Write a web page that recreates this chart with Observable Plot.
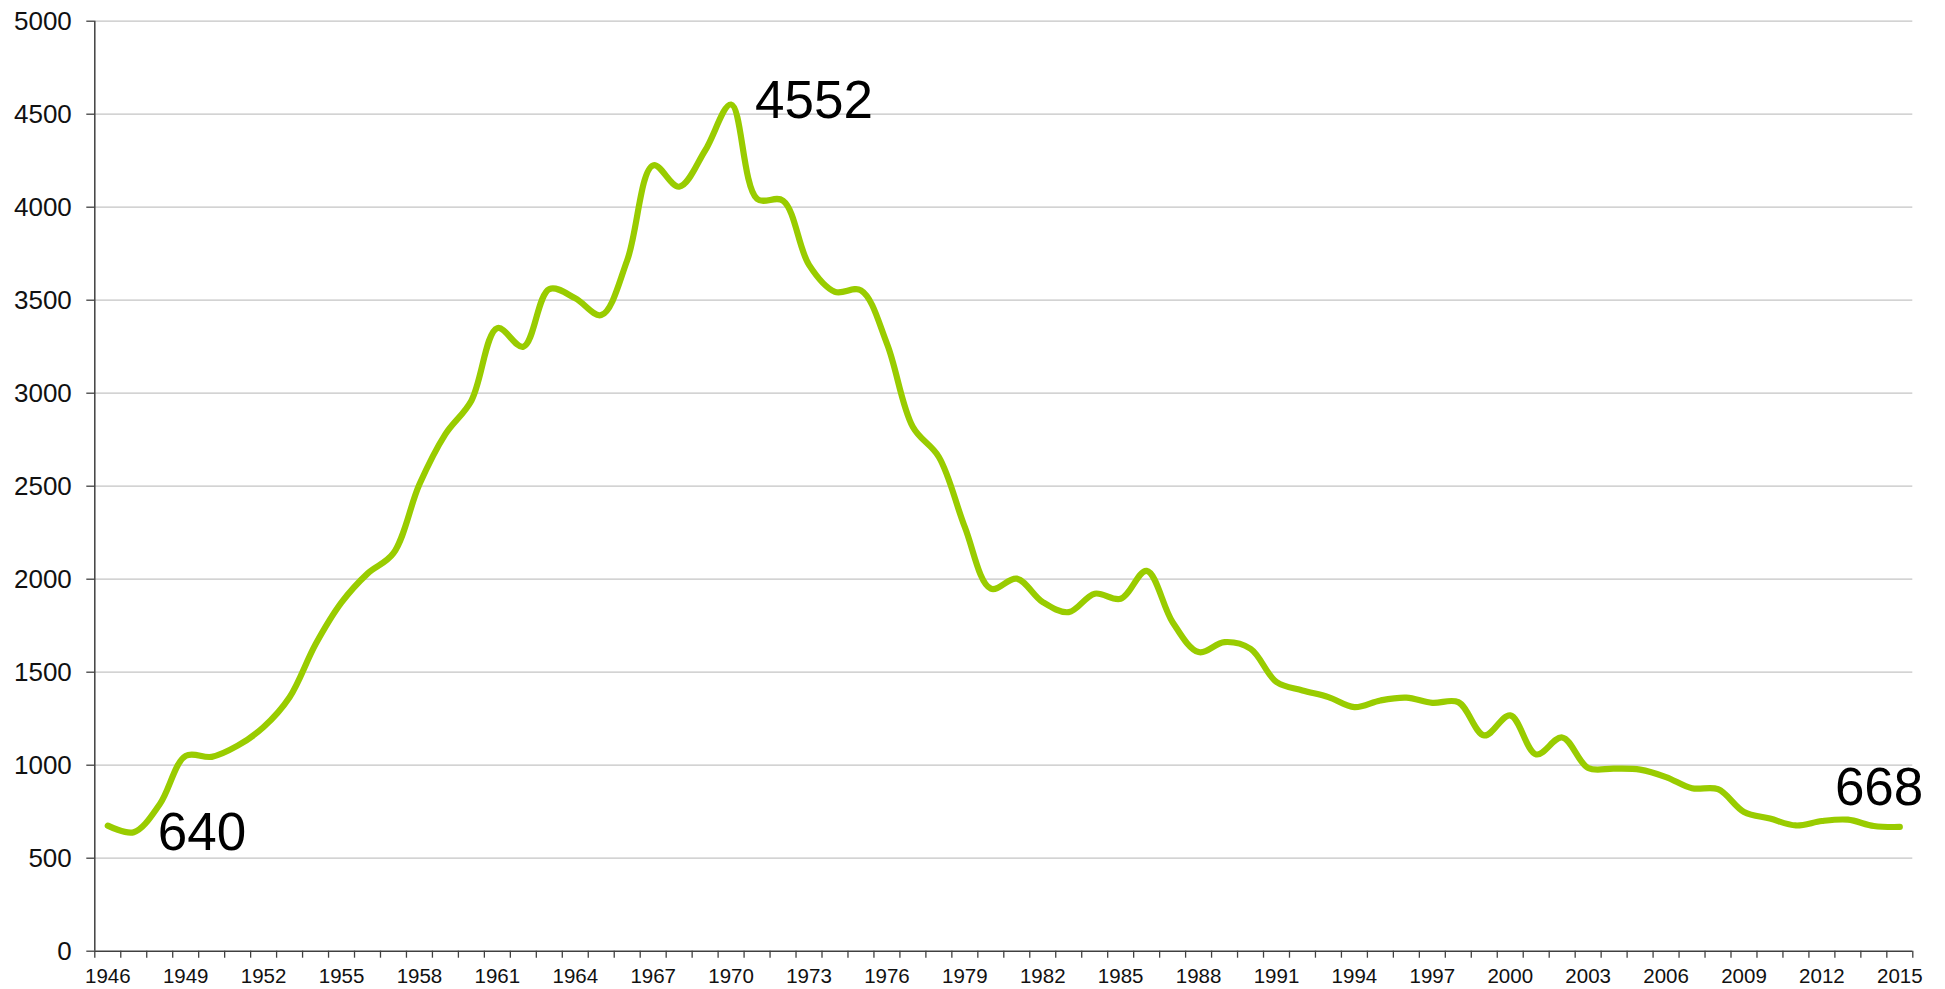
<!DOCTYPE html>
<html>
<head>
<meta charset="utf-8">
<script src="https://cdn.jsdelivr.net/npm/d3@7"></script>
<script src="https://cdn.jsdelivr.net/npm/@observablehq/plot@0.6"></script>
<style>
  html, body { margin: 0; padding: 0; background: #fff; }
  #chart svg { display: block; }
</style>
</head>
<body>
<div id="chart"></div>
<script>
const years = [
  1946,1947,1948,1949,1950,1951,1952,1953,1954,1955,
  1956,1957,1958,1959,1960,1961,1962,1963,1964,1965,
  1966,1967,1968,1969,1970,1971,1972,1973,1974,1975,
  1976,1977,1978,1979,1980,1981,1982,1983,1984,1985,
  1986,1987,1988,1989,1990,1991,1992,1993,1994,1995,
  1996,1997,1998,1999,2000,2001,2002,2003,2004,2005,
  2006,2007,2008,2009,2010,2011,2012,2013,2014,2015
];
const values = [
  675,640,790,1050,1045,1105,1205,1365,1650,1875,
  2030,2140,2510,2780,2960,3350,3250,3560,3510,3420,
  3715,4225,4110,4305,4552,4045,4035,3690,3545,3553,
  3267,2818,2657,2280,1949,2003,1877,1823,1922,1895,
  2045,1769,1608,1662,1626,1447,1402,1366,1312,1348,
  1363,1335,1339,1160,1268,1058,1149,985,982,976,
  936,876,871,749,713,676,700,707,673,668
];
const yTicks = [0,500,1000,1500,2000,2500,3000,3500,4000,4500,5000];
const xLabelYears = [1946,1949,1952,1955,1958,1961,1964,1967,1970,1973,1976,1979,1982,1985,1988,1991,1994,1997,2000,2003,2006,2009,2012,2015];
const annotatedYears = [1947, 1970, 2015];

const data = years.map((y, i) => ({year: y, value: values[i]}));
const ann = data.filter(d => annotatedYears.includes(d.year));
const boundaries = d3.range(years[0] - 0.5, years[years.length - 1] + 1, 1);

const axisColor = "#404040";
const font = "'Liberation Sans', Arial, sans-serif";

const chart = Plot.plot({
  width: 1945,
  height: 989,
  marginLeft: 94.3,
  marginRight: 32.7,
  marginTop: 20.7,
  marginBottom: 38.3,
  style: {fontFamily: font, color: "#000", background: "#fff", overflow: "visible"},
  x: {domain: [years[0] - 0.5, years[years.length - 1] + 0.5], label: null},
  y: {domain: [0, 5000], label: null},
  marks: [
    Plot.gridY(yTicks.filter(t => t > 0), {stroke: "#c4c4c4", strokeOpacity: 1, strokeWidth: 1.3}),
    Plot.axisY(yTicks, {tickSize: 8, tickPadding: 15, fontSize: 26, stroke: axisColor, strokeWidth: 1.3, fill: "#111", tickFormat: d => String(d)}),
    Plot.axisX(boundaries, {tickSize: 7, stroke: axisColor, strokeWidth: 1.3, tickFormat: () => ""}),
    Plot.axisX(xLabelYears, {tickSize: 0, tickPadding: 17, fontSize: 20.5, fill: "#111", tickFormat: d => String(d)}),
    Plot.ruleY([0], {stroke: axisColor, strokeWidth: 1.5}),
    Plot.ruleX([years[0] - 0.5], {stroke: axisColor, strokeWidth: 1.5}),
    Plot.line(data, {x: "year", y: "value", stroke: "#99cc00", strokeWidth: 6.2, curve: "catmull-rom", strokeLinecap: "round", strokeLinejoin: "round"}),
    Plot.text(ann.filter(d => d.year === 1947), {x: "year", y: "value", text: d => String(d.value), textAnchor: "start", lineAnchor: "middle", dx: 24, dy: 1, fontSize: 53, fill: "#000"}),
    Plot.text(ann.filter(d => d.year === 1970), {x: "year", y: "value", text: d => String(d.value), textAnchor: "start", lineAnchor: "middle", dx: 24, dy: -3, fontSize: 53, fill: "#000"}),
    Plot.text(ann.filter(d => d.year === 2015), {x: "year", y: "value", text: d => String(d.value), textAnchor: "end", lineAnchor: "middle", dx: 23.5, dy: -38.5, fontSize: 53, fill: "#000"})
  ]
});
document.getElementById("chart").appendChild(chart);
</script>
</body>
</html>
